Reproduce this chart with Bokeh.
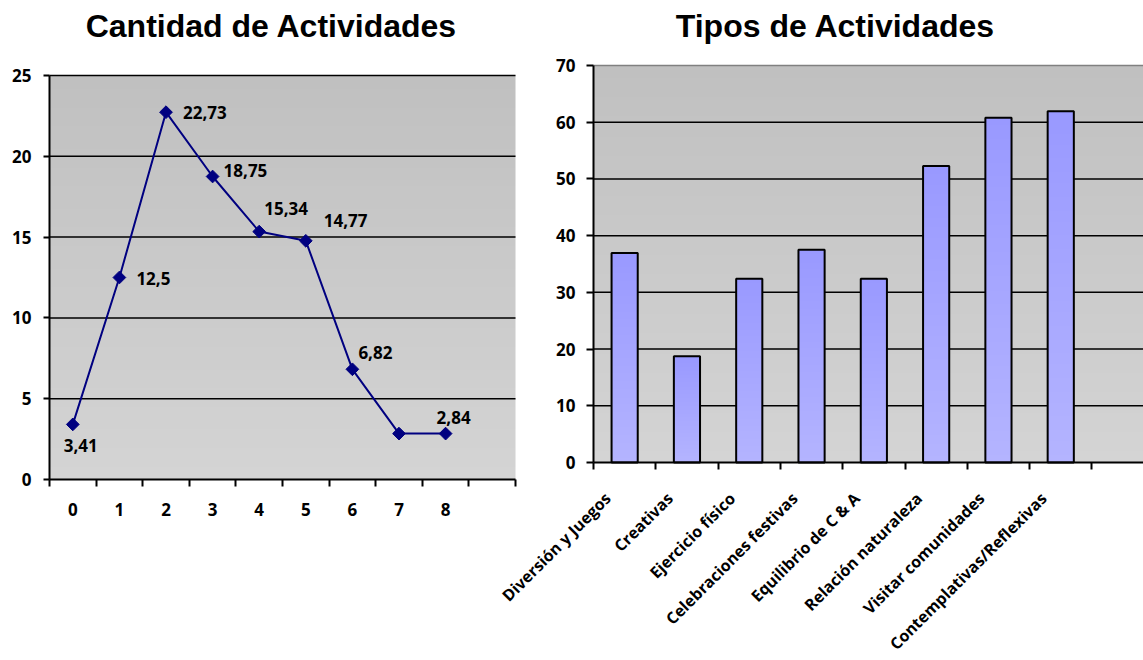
import numpy as np
from bokeh.plotting import figure
from bokeh.models import (ColumnDataSource, FixedTicker, Range1d, LinearAxis,
                          CustomJSTickFormatter)
from bokeh.core.properties import value
from bokeh.embed import file_html
from bokeh.resources import INLINE

# --- Cantidad de actividades por participante (%) ---
cantidad = [0, 1, 2, 3, 4, 5, 6, 7, 8]
porcentaje = [3.41, 12.5, 22.73, 18.75, 15.34, 14.77, 6.82, 2.84, 2.84]
con_etiqueta = [True, True, True, True, True, True, True, False, True]
y_ticks_cantidad = [0, 5, 10, 15, 20, 25]

# --- Tipos de actividades (%) ---
tipos = [
    "Diversión y Juegos",
    "Creativas",
    "Ejercicio físico",
    "Celebraciones festivas",
    "Equilibrio de C & A",
    "Relación naturaleza",
    "Visitar comunidades",
    "Contemplativas/Reflexivas",
]
tipos_pct = [36.93, 18.75, 32.39, 37.5, 32.39, 52.27, 60.8, 61.93]
y_ticks_tipos = [0, 10, 20, 30, 40, 50, 60, 70]

# label placement (pixels, relative to each point)
etiqueta_dx = [-9, 17, 17, 11, 5, 18, 6, 0, -9]
etiqueta_dy = [21, 1, 0, -6, -23, -20, -17, 0, -16]

W, H = 1143, 660
LABEL_FONT = value("Open Sans")
TITLE_FONT = value("Liberation Sans")
GRID_COLOR = "black"
LINE_COLOR = "#000080"
TITLE_BASELINE_PX = 25


class Area:
    """Maps a chart's data space onto a pixel box of the shared canvas."""

    def __init__(self, px_left, x_left, px_per_x, py_base, y_base, px_per_y):
        self.px_left, self.x_left, self.kx = px_left, x_left, px_per_x
        self.py_base, self.y_base, self.ky = py_base, y_base, px_per_y

    def x_range(self):
        return Range1d(self.x_left - self.px_left / self.kx,
                       self.x_left + (W - self.px_left) / self.kx)

    def y_range(self):
        return Range1d(self.y_base - (H - self.py_base) / self.ky,
                       self.y_base + self.py_base / self.ky)

    def x(self, px):
        return self.x_left + (px - self.px_left) / self.kx

    def y(self, py):
        return self.y_base + (self.py_base - py) / self.ky


def gradient(top_rgb, bottom_rgb, n=128):
    t = np.linspace(0.0, 1.0, n)[:, None]  # row 0 = bottom
    top = np.array(top_rgb, dtype=float)
    bot = np.array(bottom_rgb, dtype=float)
    rgb = bot + (top - bot) * t
    img8 = np.zeros((n, 2, 4), dtype=np.uint8)
    img8[:, :, :3] = np.round(rgb)[:, None, :].astype(np.uint8)
    img8[:, :, 3] = 255
    return img8.view(np.uint32).reshape(n, 2)


def style_axis(ax):
    ax.axis_line_color = "black"
    ax.axis_line_width = 2
    ax.major_tick_line_color = "black"
    ax.major_tick_line_width = 2
    ax.minor_tick_line_color = "black"
    ax.minor_tick_line_width = 2
    ax.major_tick_in = 0
    ax.minor_tick_in = 0
    ax.major_label_text_font = "Open Sans"
    ax.major_label_text_font_style = "bold"
    ax.major_label_text_font_size = "17px"
    ax.major_label_text_color = "black"


# chart areas on the canvas
x1_lo, x1_hi = cantidad[0] - 0.5, cantidad[-1] + 1.5
a1 = Area(px_left=49, x_left=x1_lo, px_per_x=466 / (x1_hi - x1_lo),
          py_base=479, y_base=0, px_per_y=404 / y_ticks_cantidad[-1])
a2 = Area(px_left=593, x_left=-0.5, px_per_x=62.3,
          py_base=462, y_base=0, px_per_y=397 / y_ticks_tipos[-1])
x2_lo, x2_hi = -0.5, a2.x(W)

p = figure(
    width=W, height=H, x_range=a1.x_range(), y_range=a1.y_range(),
    x_axis_type=None, y_axis_type=None, title_location=None,
    min_border=0, output_backend="svg", toolbar_location=None,
    background_fill_color="white", border_fill_color="white",
    outline_line_color=None,
)
p.grid.visible = False
p.extra_x_ranges = {"tipos": a2.x_range()}
p.extra_y_ranges = {"tipos": a2.y_range()}
T = dict(x_range_name="tipos", y_range_name="tipos")

# ---------------- left: Cantidad de Actividades ----------------
y1_top = y_ticks_cantidad[-1]
p.image_rgba(image=[gradient((192, 192, 192), (212, 212, 212))],
             x=x1_lo, y=0, dw=x1_hi - x1_lo, dh=y1_top)
g1 = y_ticks_cantidad[1:]
p.segment(x0=[x1_lo] * len(g1), x1=[x1_hi] * len(g1), y0=g1, y1=g1,
          line_color=GRID_COLOR, line_width=1.5)

p.line(cantidad, porcentaje, line_color=LINE_COLOR, line_width=2)
p.scatter(cantidad, porcentaje, marker="square", angle=np.pi / 4, size=9,
          fill_color=LINE_COLOR, line_color=LINE_COLOR)

idx = [i for i, s in enumerate(con_etiqueta) if s]
lbl = ColumnDataSource(dict(
    x=[cantidad[i] for i in idx],
    y=[porcentaje[i] for i in idx],
    text=[f"{porcentaje[i]:g}".replace(".", ",") for i in idx],
    dx=[etiqueta_dx[i] for i in idx],
    dy=[etiqueta_dy[i] for i in idx],
))
p.text(x="x", y="y", text="text", x_offset="dx", y_offset="dy", source=lbl,
       text_font=LABEL_FONT, text_font_style="bold", text_font_size="17px",
       text_color="black", text_align="left", text_baseline="middle")

yax1 = LinearAxis(ticker=FixedTicker(ticks=y_ticks_cantidad),
                  fixed_location=x1_lo, bounds=(0, y1_top))
style_axis(yax1)
yax1.major_tick_out = 6
yax1.major_label_standoff = 12
p.add_layout(yax1, "left")

bordes = [c - 0.5 for c in cantidad] + [cantidad[-1] + 0.5, cantidad[-1] + 1.5]
xax1 = LinearAxis(ticker=FixedTicker(ticks=cantidad, minor_ticks=bordes),
                  fixed_location=0, bounds=(x1_lo, x1_hi))
style_axis(xax1)
xax1.major_tick_out = 0
xax1.minor_tick_out = 7
xax1.major_label_standoff = 16
p.add_layout(xax1, "below")

p.text(x=[a1.x(271)], y=[a1.y(TITLE_BASELINE_PX)], text=["Cantidad de Actividades"],
       text_font=TITLE_FONT, text_font_style="bold", text_font_size="32px",
       text_color="black", text_align="center", text_baseline="alphabetic")

# ---------------- right: Tipos de Actividades ----------------
pos = list(range(len(tipos)))
bar_w = 0.42
y2_top = y_ticks_tipos[-1]
p.image_rgba(image=[gradient((192, 192, 192), (212, 212, 212))],
             x=x2_lo, y=0, dw=x2_hi - x2_lo, dh=y2_top, **T)
g2 = y_ticks_tipos[1:-1]
p.segment(x0=[x2_lo] * len(g2), x1=[x2_hi] * len(g2), y0=g2, y1=g2,
          line_color=GRID_COLOR, line_width=1.5, **T)
# top edge of the plot area is a softer grey line
p.segment(x0=[x2_lo], x1=[x2_hi], y0=[y2_top], y1=[y2_top],
          line_color="#808080", line_width=1.5, **T)

bar_img = gradient((153, 153, 255), (180, 180, 255))
p.image_rgba(image=[bar_img] * len(tipos), x=[i - bar_w / 2 for i in pos], y=0,
             dw=bar_w, dh=tipos_pct, **T)
p.vbar(x=pos, top=tipos_pct, width=bar_w, fill_color=None,
       line_color="black", line_width=2, **T)

yax2 = LinearAxis(ticker=FixedTicker(ticks=y_ticks_tipos),
                  fixed_location=x2_lo, bounds=(0, y2_top), **T)
style_axis(yax2)
yax2.major_tick_out = 7
yax2.major_label_standoff = 11
p.add_layout(yax2, "left")

xax2 = LinearAxis(ticker=FixedTicker(ticks=pos, minor_ticks=[i - 0.5 for i in pos] + [len(tipos) - 0.5]),
                  fixed_location=0, bounds=(x2_lo, x2_hi), **T)
style_axis(xax2)
xax2.major_tick_out = 0
xax2.minor_tick_out = 7
xax2.formatter = CustomJSTickFormatter(code="return ''")
p.add_layout(xax2, "below")

# slanted category names ending just below each bar
p.text(x=pos, y=[0] * len(tipos), text=tipos, x_offset=-17, y_offset=33,
       angle=np.pi / 4, text_align="right", text_baseline="middle",
       text_font=LABEL_FONT, text_font_style="bold", text_font_size="16px",
       text_color="black", **T)

p.text(x=[a2.x(835)], y=[a2.y(TITLE_BASELINE_PX)], text=["Tipos de Actividades"],
       text_font=TITLE_FONT, text_font_style="bold", text_font_size="32px",
       text_color="black", text_align="center", text_baseline="alphabetic", **T)

open("out.html", "w").write(file_html(p, INLINE))
